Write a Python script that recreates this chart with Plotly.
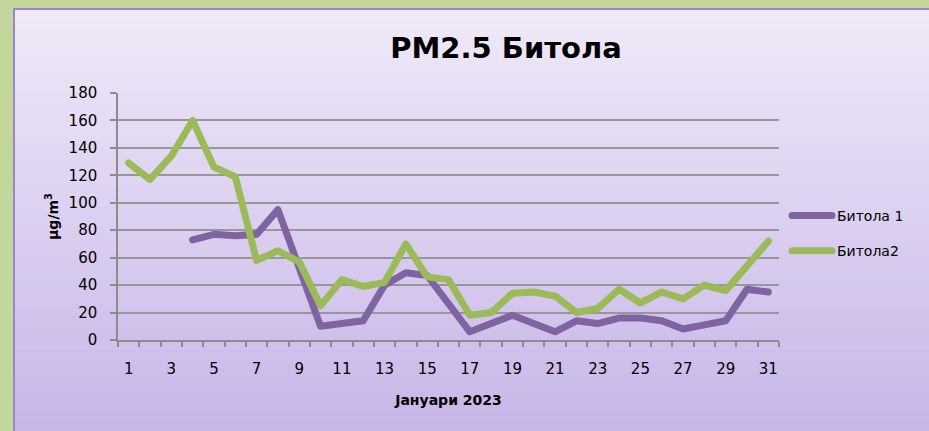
import plotly.graph_objects as go

days = list(range(1, 32))
bitola1 = [None, None, None, 73, 77, 76, 77, 95, 52, 10, 12, 14, 40, 49, 47, 26,
           6, 12, 18, 12, 6, 14, 12, 16, 16, 14, 8, 11, 14, 37, 35]
bitola2 = [129, 117, 134, 160, 126, 119, 58, 65, 57, 25, 44, 39, 42, 70, 46, 44,
           18, 20, 34, 35, 32, 20, 23, 37, 27, 35, 30, 40, 36, 55, 72]
x_tick_vals = list(range(1, 32, 2))
x_tick_text = [str(v) for v in x_tick_vals]
y_tick_vals = list(range(0, 181, 20))

FONT = "DejaVu Sans"
W, H = 929, 431
ML, MR, MT, MB = 118, 150, 93, 91
PW, PH = W - ML - MR, H - MT - MB


def px2x(px):
    return (px - ML) / PW


def py2y(py):
    return (H - MB - py) / PH


fig = go.Figure()
fig.add_trace(go.Scatter(x=days, y=bitola1, mode="lines", name="Битола 1",
                         line=dict(color="#8064A2", width=7), legendgroup="a",
                         connectgaps=False))
fig.add_trace(go.Scatter(x=days, y=bitola2, mode="lines", name="Битола2",
                         line=dict(color="#9BBB59", width=7), legendgroup="b"))

# background gradient of chart area
shapes = []
N = 48
top, bot = 9, 440
c0 = (239, 233, 248)
c1 = (199, 181, 232)
for i in range(N):
    t = i / (N - 1)
    col = tuple(round(c0[k] + (c1[k] - c0[k]) * t) for k in range(3))
    ya = top + (bot - top) * i / N
    yb = top + (bot - top) * (i + 1) / N + 0.6
    shapes.append(dict(type="rect", xref="paper", yref="paper", layer="below",
                       x0=px2x(14), x1=px2x(940), y0=py2y(ya), y1=py2y(yb),
                       fillcolor="rgb(%d,%d,%d)" % col, line=dict(width=0)))
shapes.append(dict(type="rect", xref="paper", yref="paper", layer="below",
                   x0=px2x(14), x1=px2x(945), y0=py2y(9), y1=py2y(450),
                   fillcolor="rgba(0,0,0,0)", line=dict(color="#9C84CF", width=2)))

fig.update_layout(
    width=W, height=H,
    margin=dict(l=ML, r=MR, t=MT, b=MB),
    paper_bgcolor="#C3D69B",
    plot_bgcolor="rgba(0,0,0,0)",
    shapes=shapes,
    font=dict(family=FONT, color="#000000", size=15),
    title=dict(text="<b>PM2.5 Битола</b>", x=506 / W, xanchor="center",
               y=1 - 48 / H, yanchor="middle",
               font=dict(family=FONT, size=29, color="#000000")),
    showlegend=True,
    legend=dict(x=px2x(787), y=py2y(200), xanchor="left", yanchor="top",
                bgcolor="rgba(0,0,0,0)", font=dict(size=14, family=FONT),
                traceorder="grouped", tracegroupgap=14, itemwidth=40),
    xaxis=dict(range=[0.5, 31.5], tickmode="array", tickvals=x_tick_vals,
               ticktext=x_tick_text, ticks="", showgrid=False, zeroline=False,
               showline=True, linecolor="#8C8C8C", linewidth=1.5,
               tickfont=dict(size=15, family=FONT), ticklabelstandoff=14,
               minor=dict(tickvals=[d + 0.5 for d in range(0, 32)],
                          ticks="outside", ticklen=5, tickcolor="#8C8C8C",
                          tickwidth=1.5, showgrid=False),
               title=dict(text="<b>Јануари 2023</b>", font=dict(size=14, family=FONT),
                          standoff=18)),
    yaxis=dict(range=[0, 180], tickmode="array", tickvals=y_tick_vals,
               ticks="outside", ticklen=6, tickcolor="#8C8C8C", tickwidth=1.5,
               showgrid=True, gridcolor="#979797", gridwidth=1.5, zeroline=False,
               showline=True, linecolor="#8C8C8C", linewidth=1.5,
               tickfont=dict(size=15, family=FONT), ticklabelstandoff=10,
               title=dict(text="<b>μg/m<sup>3</sup></b>", font=dict(size=14, family=FONT),
                          standoff=7)),
)

fig.write_html("out.html",
               config={"displayModeBar": False},
               post_script="document.body.style.margin='0';"
                           "document.body.style.background='#C3D69B';"
                           "document.body.style.overflow='hidden';"
                           "document.querySelectorAll('path.js-line').forEach(function(p){"
                           "p.style.strokeLinejoin='round';p.style.strokeLinecap='round';});")
